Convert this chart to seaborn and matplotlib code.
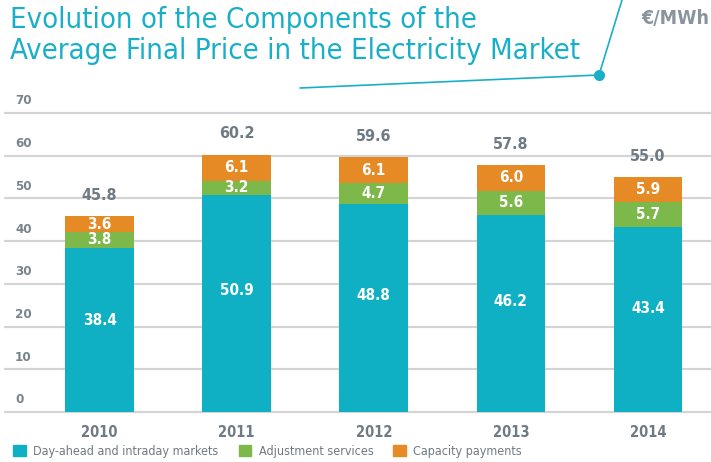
import matplotlib
matplotlib.use("Agg")
import matplotlib.pyplot as plt
import seaborn as sns
import pandas as pd
import numpy as np
from matplotlib.lines import Line2D

years = ["2010", "2011", "2012", "2013", "2014"]
day_ahead = [38.4, 50.9, 48.8, 46.2, 43.4]
adjustment = [3.8, 3.2, 4.7, 5.6, 5.7]
capacity = [3.6, 6.1, 6.1, 6.0, 5.9]
totals = [45.8, 60.2, 59.6, 57.8, 55.0]
series_names = ["Day-ahead and intraday markets", "Adjustment services", "Capacity payments"]
y_ticks = [0, 10, 20, 30, 40, 50, 60, 70]

TEAL = "#0FB0C4"
GREEN = "#7DB84A"
ORANGE = "#E58A25"
GRAY = "#6E7A84"
TITLE = "#1AAFC8"
GRID = "#D4D4D4"

sns.set_theme(style="white")
plt.rcParams['font.family'] = ['DejaVu Sans']
plt.rcParams['font.stretch'] = 'condensed'

fig = plt.figure(figsize=(7.11, 4.62), dpi=100)
W, H = 711, 462
ax = fig.add_axes([5 / W, (H - 412) / H, 706 / W, (412 - 113) / H])

df = pd.DataFrame({"year": years, "day": day_ahead, "adj": adjustment, "cap": capacity})
df["adj_top"] = df["day"] + df["adj"]
df["cap_top"] = df["adj_top"] + df["cap"]

# stacked via overlapping barplots (top layers drawn first)
for col, c in (("cap_top", ORANGE), ("adj_top", GREEN), ("day", TEAL)):
    sns.barplot(data=df, x="year", y=col, color=c, width=0.5, saturation=1, ax=ax,
                zorder=3, linewidth=0, edgecolor=c)

ax.set_xlim(-0.69, 4.46)
ax.set_ylim(0, 70)
for s in ax.spines.values():
    s.set_visible(False)
ax.set_xlabel("")
ax.set_ylabel("")
ax.set_yticks([])
ax.set_xticks([])
for t in y_ticks:
    ax.axhline(t, color=GRID, lw=1.6, zorder=1, clip_on=False)
    ax.text(10 / 706, t + 1.3, str(t), transform=ax.get_yaxis_transform(), ha="left", va="bottom",
            fontsize=9.5, fontweight="bold", color="#78838B")

for i, y in enumerate(years):
    d, a, c, tot = day_ahead[i], adjustment[i], capacity[i], totals[i]
    kw = dict(ha="center", va="center", color="white", fontsize=11, fontweight="bold", zorder=5)
    ax.text(i, d * 0.56, f"{d:.1f}", **kw)
    ax.text(i, d + a / 2, f"{a:.1f}", **kw)
    ax.text(i, d + a + c / 2, f"{c:.1f}", **kw)
    ax.text(i, d + a + c + 4.9, f"{tot:.1f}", ha="center", va="center", color=GRAY,
            fontsize=11.5, fontweight="bold", zorder=5, clip_on=False)
    ax.text(i, -4.9, y, ha="center", va="center", color=GRAY, fontsize=10.5,
            fontweight="bold", clip_on=False)

# legend
handles = [plt.Rectangle((0, 0), 1, 1, color=c) for c in (TEAL, GREEN, ORANGE)]
fig.legend(handles, series_names, loc="lower left", bbox_to_anchor=(0.003, -0.015), ncol=3,
           frameon=False, handlelength=1.0, handleheight=1.0, handletextpad=0.6,
           columnspacing=1.6, prop={"size": 9, "stretch": "condensed"}, labelcolor=GRAY)

# title
fig.text(10 / W, 1 - 6 / H, "Evolution of the Components of the\nAverage Final Price in the Electricity Market",
         ha="left", va="top", color=TITLE, fontsize=21, linespacing=1.15, fontstretch="condensed")
fig.text(1 - 2 / W, 1 - 18 / H, "€/MWh", ha="right", va="center", color="#8A949C",
         fontsize=14, fontweight="bold")

# decorative connector
fig.add_artist(Line2D([300 / W, 599 / W], [1 - 88 / H, 1 - 75 / H], color=TITLE, lw=1.2))
fig.add_artist(Line2D([599 / W, 622 / W], [1 - 75 / H, 1.0], color=TITLE, lw=1.2))
fig.add_artist(Line2D([599 / W], [1 - 75 / H], marker="o", markersize=7, color=TITLE))

fig.savefig("out.png", dpi=100)
